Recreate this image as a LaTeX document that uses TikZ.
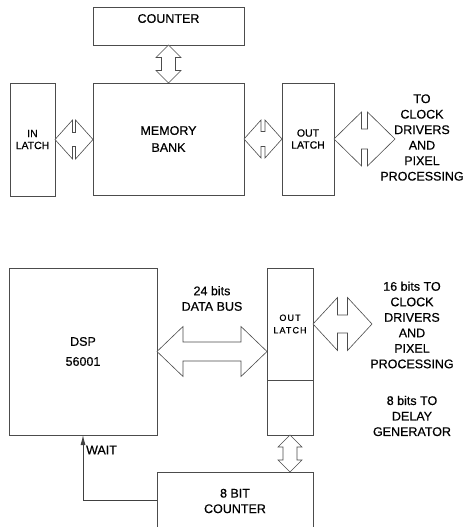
\documentclass[tikz,border=0pt]{standalone}
\usepackage{fontspec}
\setmainfont{Liberation Sans}[FakeBold=0.5]
\usepackage{tikz}
\usetikzlibrary{arrows.meta, positioning, calc}

% wide bus arrows: from, to, head half size, shaft half size, head length
\newcommand{\hbus}[5]{%
\draw[bus] let \p1=#1, \p2=#2 in
 (\x1,\y1) -- (\x1+#5,\y1+#3) -- (\x1+#5,\y1+#4) -- (\x2-#5,\y1+#4) -- (\x2-#5,\y1+#3)
 -- (\x2,\y1) -- (\x2-#5,\y1-#3) -- (\x2-#5,\y1-#4) -- (\x1+#5,\y1-#4) -- (\x1+#5,\y1-#3) -- cycle;}
\newcommand{\vbus}[5]{%
\draw[bus] let \p1=#1, \p2=#2 in
 (\x1,\y1) -- (\x1+#3,\y1-#5) -- (\x1+#4,\y1-#5) -- (\x1+#4,\y2+#5) -- (\x1+#3,\y2+#5)
 -- (\x1,\y2) -- (\x1-#3,\y2+#5) -- (\x1-#4,\y2+#5) -- (\x1-#4,\y1-#5) -- (\x1-#3,\y1-#5) -- cycle;}

\begin{document}
\begin{tikzpicture}[x=1pt, y=-1pt,
  box/.style={rectangle, draw=black!70, line width=0.8pt, anchor=north west, inner sep=0pt, outer sep=0pt, align=center},
  txt/.style={align=center, inner sep=0pt},
  small/.style={font=\fontsize{10.5}{12}\selectfont},
  tiny/.style={font=\fontsize{9}{12.5}\selectfont\addfontfeatures{LetterSpace=12}},
  bus/.style={draw=black!70, line width=0.6pt, fill=white},
  every node/.append style={font=\fontsize{12.5}{15.5}\selectfont}]
\useasboundingbox (0,0) rectangle (474,527);

% upper diagram
\node[box, minimum width=151pt, minimum height=38pt, text depth=15pt] (cnt) at (93,7) {COUNTER};
\node[box, small, minimum width=45pt, minimum height=113pt] (inl) at (10,83) {IN\\LATCH};
\node[box, minimum width=151pt, minimum height=112pt] (mem) at (93,83) {MEMORY\\[1.5pt]BANK};
\node[box, small, minimum width=52pt, minimum height=112pt] (outa) at (282,83) {OUT\\LATCH};
\node[txt] (totop) at (422,137.5) {TO\\CLOCK\\DRIVERS\\AND\\PIXEL\\PROCESSING};
\coordinate (toclk) at (395,140);

\vbus{(cnt.south)}{(mem.north)}{12.5}{7}{12.5}
\hbus{(inl.east)}{(mem.west)}{19.5}{7}{17.5}
\hbus{(mem.east)}{(outa.west)}{19}{7.5}{17}
\hbus{(outa.east)}{(toclk)}{27}{10}{27.5}

% lower diagram
\node[box, minimum width=148pt, minimum height=167pt] (dsp) at (9,268) {DSP\\[4.5pt]56001};
\node[box, tiny, minimum width=46pt, minimum height=112pt] (outb) at (267,268) {OUT\\LATCH};
\node[box, anchor=north, minimum width=46pt, minimum height=55pt, below=0pt of outb] (outc) {};
\node[box, minimum width=156pt, minimum height=58pt] (cnt8) at (157,472) {8 BIT\\COUNTER};
\node[txt] (bus) at (212,298.5) {24 bits\\DATA BUS};
\node[txt] (toclk2txt) at (412,325) {16 bits TO\\CLOCK\\DRIVERS\\AND\\PIXEL\\PROCESSING};
\node[txt] (todelay) at (412,416) {8 bits TO\\DELAY\\GENERATOR};
\coordinate (toclk2) at (372,325);

\hbus{(dsp.east)}{(outb.west)}{25}{9.5}{26}
\hbus{(outb.east)}{(toclk2)}{26.5}{9}{24.5}
\vbus{(outc.south)}{(cnt8.north)}{12}{7}{12}

\draw[draw=black!75, line width=0.8pt, -{Latex[length=10pt, width=5pt]}] (cnt8.west |- 0,500) -| ([xshift=74pt]dsp.south west);
\node[txt] (wait) at (101.5,450) {WAIT};
\end{tikzpicture}
\end{document}
